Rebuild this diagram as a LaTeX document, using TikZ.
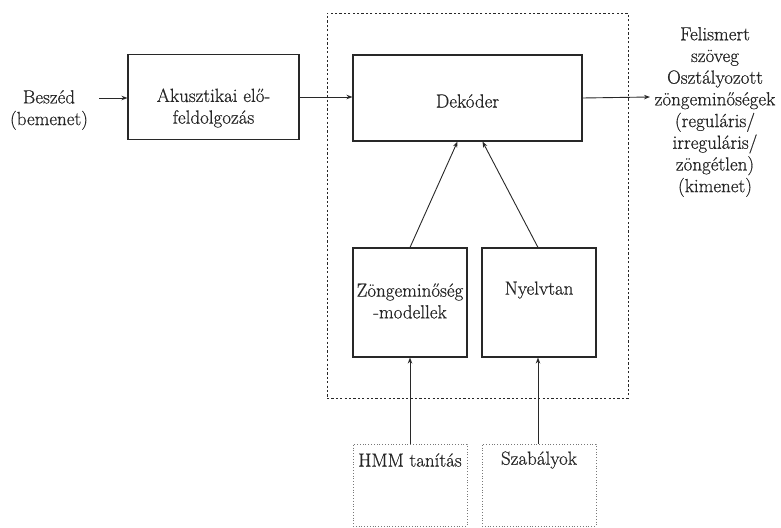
\documentclass[tikz,border=0pt]{standalone}
\usepackage{fontspec}
\newfontfamily\dkfont{Latin Modern Roman}[FakeBold=0.6]
\usetikzlibrary{arrows.meta,calc}
\definecolor{ink}{RGB}{40,40,40}
\definecolor{faint}{RGB}{120,120,120}
\tikzset{
  txt/.style={font=\dkfont\fontsize{19}{21.7}\selectfont, text=black!85, align=center, inner sep=1pt},
  blk/.style={draw=ink, line width=1.1pt, inner sep=0pt},
  lightbox/.style={draw=faint, line width=0.8pt, dotted, inner sep=0pt},
  frame/.style={draw=ink, line width=0.9pt, dash pattern=on 2.2pt off 2.2pt},
  arr/.style={draw=ink, line width=0.9pt, -{Stealth[length=6pt,width=4.5pt]}},
}
\begin{document}
\begin{tikzpicture}[x=1pt,y=-1pt]
\useasboundingbox (0,0) rectangle (781,527);
% dashed decoder frame
\node[frame, minimum width=301pt, minimum height=385pt, inner sep=0pt] (frm) at (477.5,205.5) {};
% boxes
\node[blk, minimum width=171pt, minimum height=85pt] (aku) at (213.5,97) {};
\node[txt] (akut) at (213.5,108) {Akusztikai elő-\\feldolgozás};
\node[blk, minimum width=229pt, minimum height=86pt] (dek) at (467.5,98) {};
\node[txt] (dekt) at (467.5,101) {Dekóder};
\node[blk, minimum width=114pt, minimum height=109pt] (zon) at (410,302.5) {};
\node[txt, inner sep=0pt] (zont) at (410,301) {Zöngeminőség\\-modellek};
\node[blk, minimum width=114pt, minimum height=109pt] (nyv) at (539,302.5) {};
\node[txt] (nyvt) at (539,290) {Nyelvtan};
\node[lightbox, minimum width=114pt, minimum height=82pt] (hmm) at (410,485) {};
\node[txt] (hmmt) at (410,460) {HMM tanítás};
\node[lightbox, minimum width=114pt, minimum height=82pt] (szb) at (539,485) {};
\node[txt] (szbt) at (539,460) {Szabályok};
% input / output texts
\node[txt] (in) at (49,110) {Beszéd\\(bemenet)};
\node[txt] (out) at (715,112) {Felismert\\szöveg\\Osztályozott\\zöngeminőségek\\(reguláris/\\irreguláris/\\zöngétlen)\\(kimenet)};
\coordinate (inst) at (99,98);
\coordinate (outtip) at (650,97);
% connectors
\draw[arr] (inst) -- (inst -| aku.west);
\draw[arr] (aku.east) -- (aku.east -| dek.west);
\draw[arr] (dek.east) -- (outtip);
\draw[arr] (zon.north) -- ($(dek.south)+(-10,0)$);
\draw[arr] ($(nyv.north)+(-1,0)$) -- ($(dek.south)+(15,0)$);
\draw[arr] (hmm.north) -- (zon.south);
\draw[arr] ($(szb.north)+(-1,0)$) -- ($(nyv.south)+(-1,0)$);
\end{tikzpicture}
\end{document}
